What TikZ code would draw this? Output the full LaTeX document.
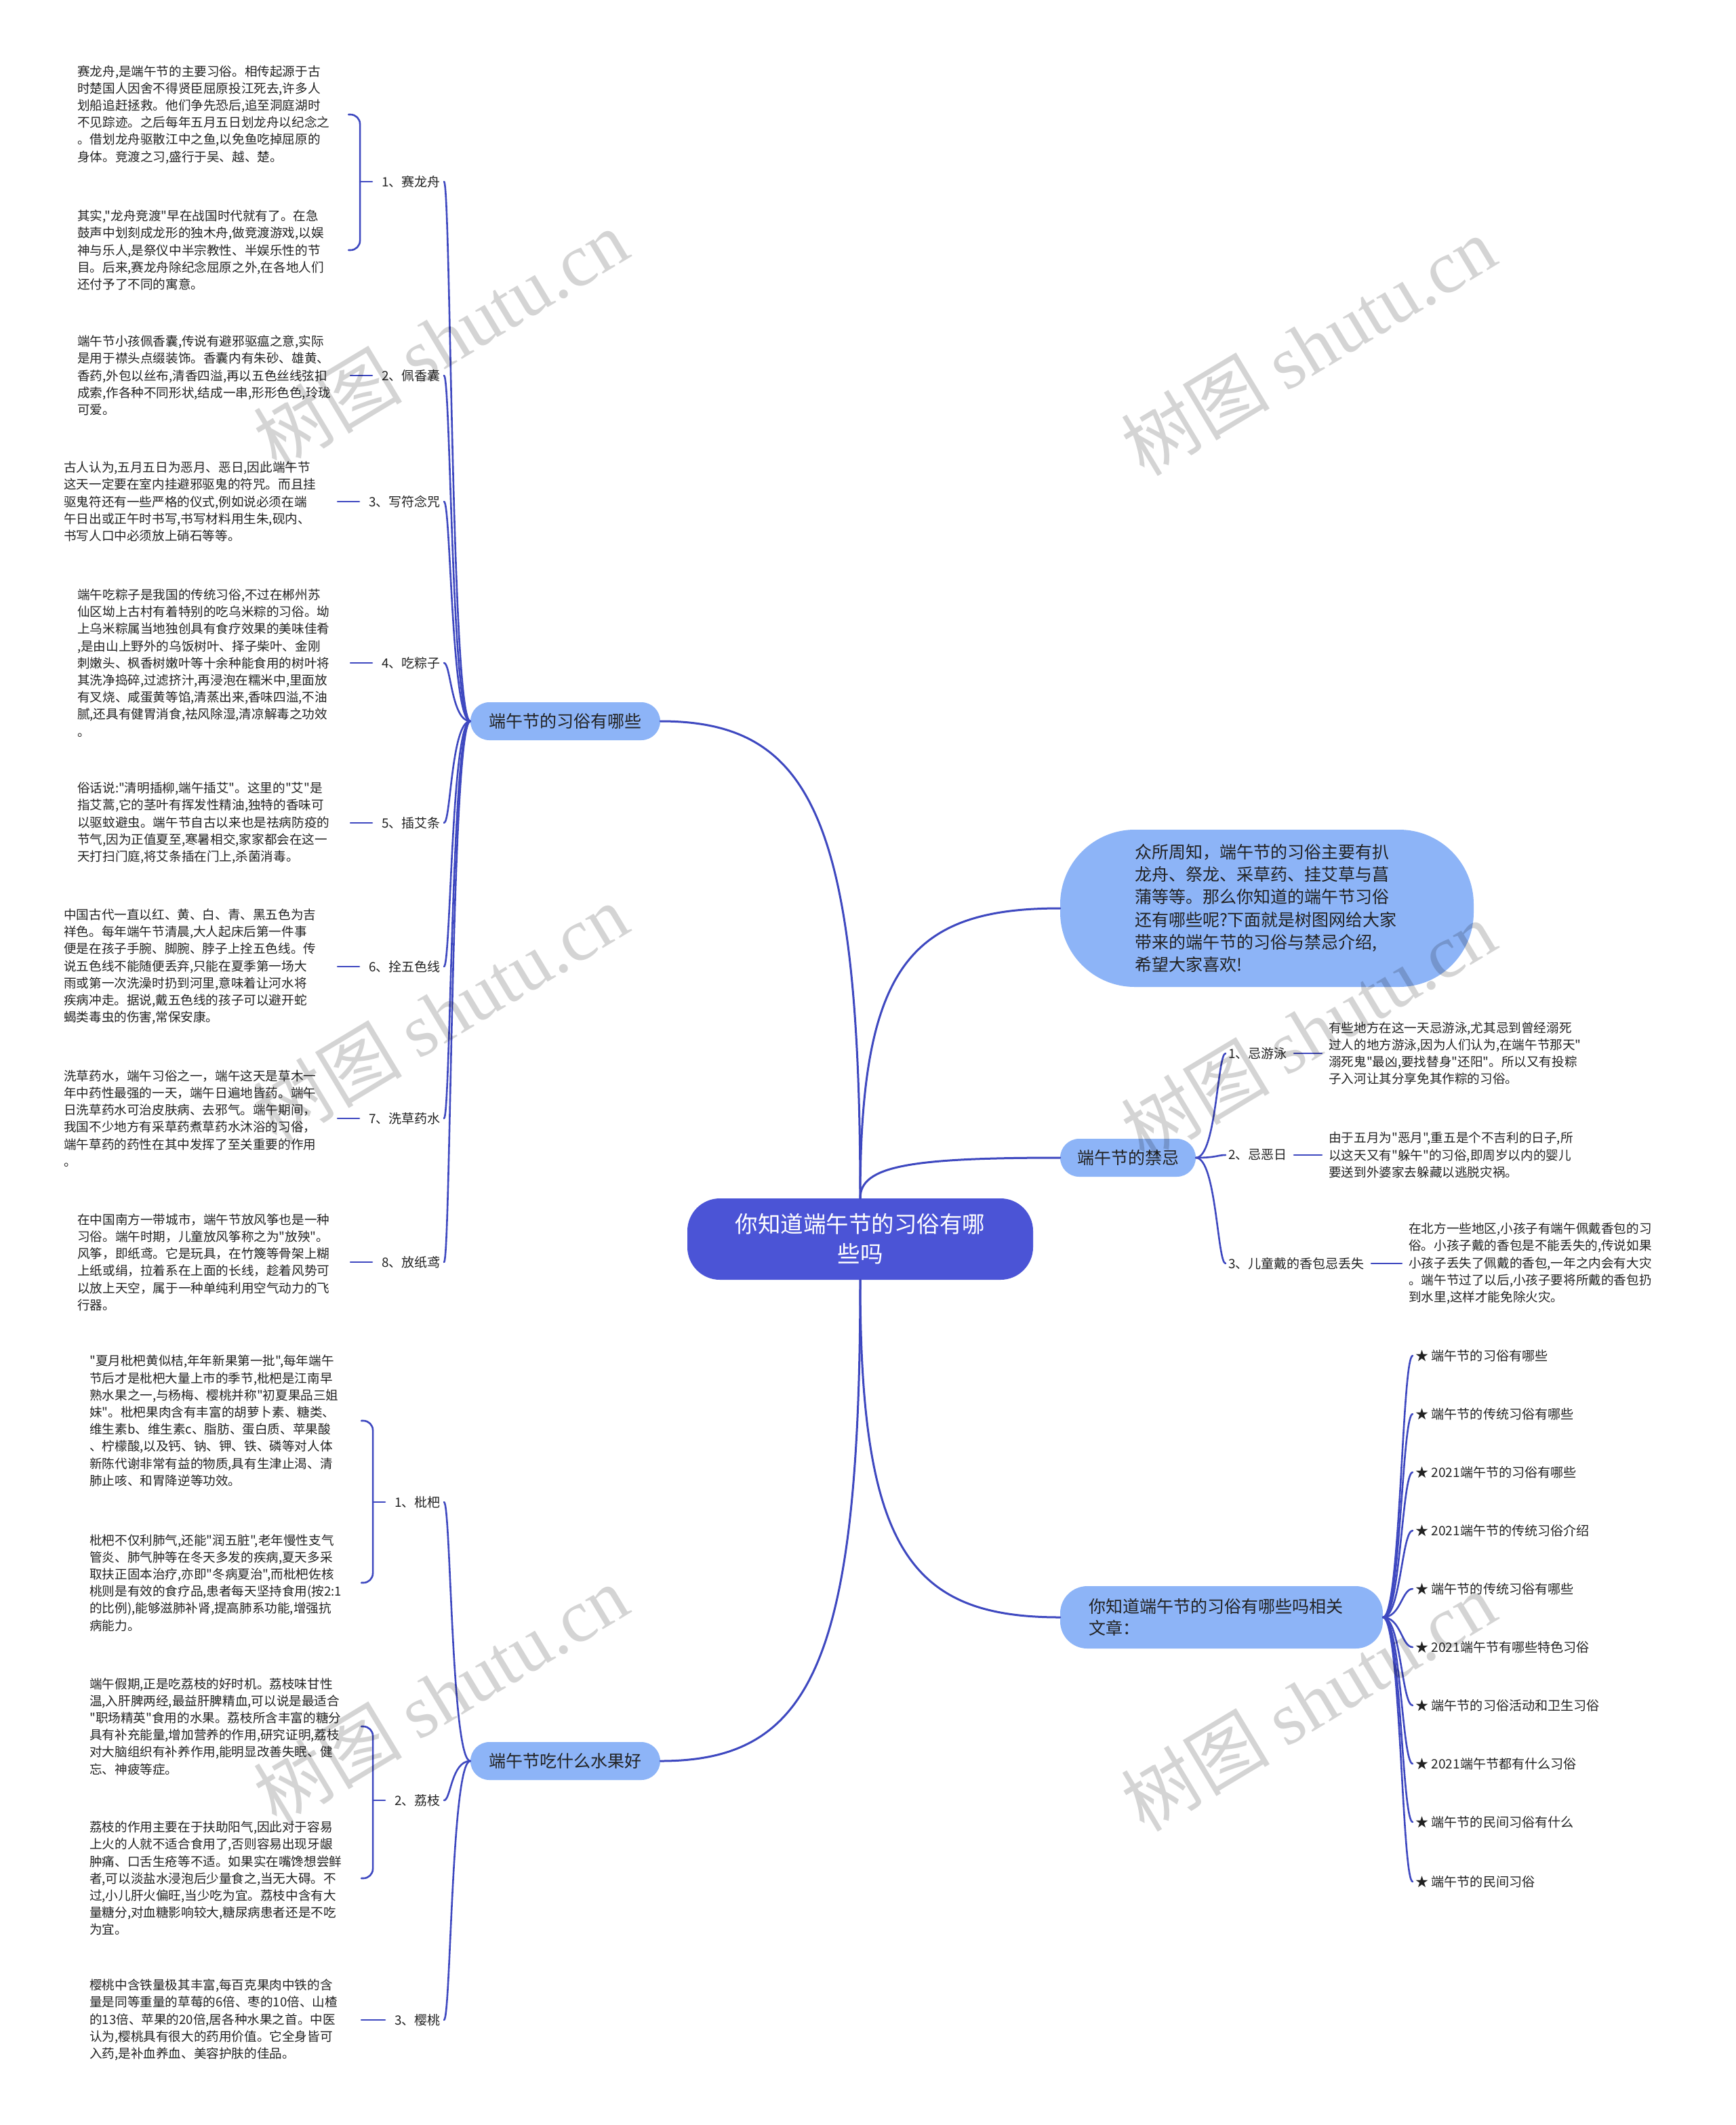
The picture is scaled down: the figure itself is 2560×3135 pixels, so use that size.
\documentclass[tikz,border=0pt]{standalone}
\usepackage{fontspec}
\setmainfont{Noto Sans CJK SC}[Ligatures=TeXOff]
\newfontfamily\wmlatin{Liberation Serif}
\usetikzlibrary{calc}
\definecolor{cmain}{RGB}{75,84,214}
\definecolor{csub}{RGB}{141,180,247}
\definecolor{cline}{RGB}{62,72,192}
\definecolor{ctext}{RGB}{34,34,34}
\begin{document}
\begin{tikzpicture}[x=1pt,y=-1pt,
 mmpara/.style={anchor=west,align=left,inner sep=0pt,text=ctext,font=\fontsize{18.6}{25.2}\selectfont},
 mmitem/.style={anchor=west,align=left,inner sep=0pt,text=ctext,font=\fontsize{19.1}{25.2}\selectfont},
 mmlbl/.style={inner sep=0pt,text=ctext,font=\fontsize{19}{24}\selectfont},
 mmbox/.style={fill=csub,text=ctext,inner sep=0pt,font=\fontsize{25}{32.5}\selectfont},
 mmline/.style={draw=cline,line width=2.6pt,line cap=round},
 mmmain/.style={draw=cline,line width=3pt,line cap=round},
 mmwm/.style={text=black,opacity=0.17,rotate=31,inner sep=0pt,font=\fontsize{110}{110}\selectfont},
]
\useasboundingbox[fill=white] (0,0) rectangle (2560,3135);

% ---------- main nodes ----------
\node[fill=cmain,text=white,rounded corners=48pt,minimum width=510pt,minimum height=120pt,
      text width=380pt,align=center,inner sep=0pt,font=\fontsize{33.5}{44}\selectfont] (ctr) at (1269,1828) {你知道端午节的习俗有哪\\些吗};
\node[mmbox,rounded corners=28pt,minimum width=280pt,minimum height=56pt] (cust) at (834,1064) {端午节的习俗有哪些};
\node[mmbox,rounded corners=28pt,minimum width=280pt,minimum height=56pt] (fruit) at (834,2598) {端午节吃什么水果好};
\node[mmbox,rounded corners=28pt,minimum width=200pt,minimum height=56pt] (taboo) at (1664,1708) {端午节的禁忌};
\node[mmbox,rounded corners=110pt,minimum width=610pt,minimum height=232pt,text width=390pt,align=left,
      font=\fontsize{25}{33.2}\selectfont] (intro) at (1869,1340)
 {众所周知，端午节的习俗主要有扒\\龙舟、祭龙、采草药、挂艾草与菖\\蒲等等。那么你知道的端午节习俗\\还有哪些呢?下面就是树图网给大家\\带来的端午节的习俗与禁忌介绍,\\希望大家喜欢!};
\node[mmbox,rounded corners=40pt,minimum width=476pt,minimum height=92pt,text width=392pt,align=left] (rel) at (1802,2386)
 {你知道端午节的习俗有哪些吗相关\\文章：};

% ---------- center connectors ----------
\draw[mmmain] (ctr.north) .. controls ($(ctr.north)!0.8!(ctr.north|-cust.east)$) and ($(cust.east)!0.75!(ctr.north|-cust.east)$) .. (cust.east);
\draw[mmmain] (ctr.north) .. controls ($(ctr.north)!0.8!(ctr.north|-intro.west)$) and ($(intro.west)!0.75!(ctr.north|-intro.west)$) .. (intro.west);
\draw[mmmain] (ctr.north) .. controls ($(ctr.north)!0.8!(ctr.north|-taboo.west)$) and ($(taboo.west)!0.75!(ctr.north|-taboo.west)$) .. (taboo.west);
\draw[mmmain] (ctr.south) .. controls ($(ctr.south)!0.8!(ctr.south|-fruit.east)$) and ($(fruit.east)!0.75!(ctr.south|-fruit.east)$) .. (fruit.east);
\draw[mmmain] (ctr.south) .. controls ($(ctr.south)!0.8!(ctr.south|-rel.west)$) and ($(rel.west)!0.75!(ctr.south|-rel.west)$) .. (rel.west);

% ---------- customs branch ----------
\node[mmlbl,anchor=east] (l1) at (650,268) {1、赛龙舟};
\node[mmlbl,anchor=east] (l2) at (650,554) {2、佩香囊};
\node[mmlbl,anchor=east] (l3) at (650,740) {3、写符念咒};
\node[mmlbl,anchor=east] (l4) at (650,978) {4、吃粽子};
\node[mmlbl,anchor=east] (l5) at (650,1214) {5、插艾条};
\node[mmlbl,anchor=east] (l6) at (650,1426) {6、拴五色线};
\node[mmlbl,anchor=east] (l7) at (650,1650) {7、洗草药水};
\node[mmlbl,anchor=east] (l8) at (650,1862) {8、放纸鸢};

\node[mmpara] (p1a) at (114,169) {赛龙舟,是端午节的主要习俗。相传起源于古\\时楚国人因舍不得贤臣屈原投江死去,许多人\\划船追赶拯救。他们争先恐后,追至洞庭湖时\\不见踪迹。之后每年五月五日划龙舟以纪念之\\。借划龙舟驱散江中之鱼,以免鱼吃掉屈原的\\身体。竞渡之习,盛行于吴、越、楚。};
\node[mmpara] (p1b) at (114,369) {其实,"龙舟竞渡"早在战国时代就有了。在急\\鼓声中划刻成龙形的独木舟,做竞渡游戏,以娱\\神与乐人,是祭仪中半宗教性、半娱乐性的节\\目。后来,赛龙舟除纪念屈原之外,在各地人们\\还付予了不同的寓意。};
\node[mmpara] (p2) at (114,554) {端午节小孩佩香囊,传说有避邪驱瘟之意,实际\\是用于襟头点缀装饰。香囊内有朱砂、雄黄、\\香药,外包以丝布,清香四溢,再以五色丝线弦扣\\成索,作各种不同形状,结成一串,形形色色,玲珑\\可爱。};
\node[mmpara] (p3) at (94,740) {古人认为,五月五日为恶月、恶日,因此端午节\\这天一定要在室内挂避邪驱鬼的符咒。而且挂\\驱鬼符还有一些严格的仪式,例如说必须在端\\午日出或正午时书写,书写材料用生朱,砚内、\\书写人口中必须放上硝石等等。};
\node[mmpara] (p4) at (114,978) {端午吃粽子是我国的传统习俗,不过在郴州苏\\仙区坳上古村有着特别的吃乌米粽的习俗。坳\\上乌米粽属当地独创具有食疗效果的美味佳肴\\,是由山上野外的乌饭树叶、择子柴叶、金刚\\刺嫩头、枫香树嫩叶等十余种能食用的树叶将\\其洗净捣碎,过滤挤汁,再浸泡在糯米中,里面放\\有叉烧、咸蛋黄等馅,清蒸出来,香味四溢,不油\\腻,还具有健胃消食,祛风除湿,清凉解毒之功效\\。};
\node[mmpara] (p5) at (114,1214) {俗话说:"清明插柳,端午插艾"。这里的"艾"是\\指艾蒿,它的茎叶有挥发性精油,独特的香味可\\以驱蚊避虫。端午节自古以来也是祛病防疫的\\节气,因为正值夏至,寒暑相交,家家都会在这一\\天打扫门庭,将艾条插在门上,杀菌消毒。};
\node[mmpara] (p6) at (94,1426) {中国古代一直以红、黄、白、青、黑五色为吉\\祥色。每年端午节清晨,大人起床后第一件事\\便是在孩子手腕、脚腕、脖子上拴五色线。传\\说五色线不能随便丢弃,只能在夏季第一场大\\雨或第一次洗澡时扔到河里,意味着让河水将\\疾病冲走。据说,戴五色线的孩子可以避开蛇\\蝎类毒虫的伤害,常保安康。};
\node[mmpara] (p7) at (94,1650) {洗草药水，端午习俗之一，端午这天是草木一\\年中药性最强的一天，端午日遍地皆药。端午\\日洗草药水可治皮肤病、去邪气。端午期间，\\我国不少地方有采草药煮草药水沐浴的习俗，\\端午草药的药性在其中发挥了至关重要的作用\\。};
\node[mmpara] (p8) at (114,1862) {在中国南方一带城市，端午节放风筝也是一种\\习俗。端午时期，儿童放风筝称之为"放殃"。\\风筝，即纸鸢。它是玩具，在竹篾等骨架上糊\\上纸或绢，拉着系在上面的长线，趁着风势可\\以放上天空，属于一种单纯利用空气动力的飞\\行器。};

\foreach \n in {l1,l2,l3,l4,l5,l6,l7,l8}
  {\draw[mmline] (cust.west) .. controls ([xshift=-28pt]cust.west) and ([xshift=15pt]\n.east) .. ([xshift=5pt]\n.east);}

\coordinate (b1x) at ([xshift=-32pt]l1.west);
\coordinate (b1t) at ([xshift=-49pt]l1.west);
\draw[mmline,rounded corners=14pt] (b1t|-p1a) -- (b1x|-p1a) -- (b1x|-p1b) -- (b1t|-p1b);
\draw[mmline] (b1x|-l1) -- ([xshift=-14pt]l1.west);
\foreach \n in {l2,l3,l4,l5,l6,l7,l8}
  {\draw[mmline] ([xshift=-14pt]\n.west) -- ([xshift=-46pt]\n.west);}

% ---------- fruit branch ----------
\node[mmlbl,anchor=east] (f1l) at (650,2216) {1、枇杷};
\node[mmlbl,anchor=east] (f2l) at (650,2656) {2、荔枝};
\node[mmlbl,anchor=east] (f3l) at (650,2980) {3、樱桃};

\node[mmpara] (f1a) at (132,2096) {"夏月枇杷黄似桔,年年新果第一批",每年端午\\节后才是枇杷大量上市的季节,枇杷是江南早\\熟水果之一,与杨梅、樱桃并称"初夏果品三姐\\妹"。枇杷果肉含有丰富的胡萝卜素、糖类、\\维生素b、维生素c、脂肪、蛋白质、苹果酸\\、柠檬酸,以及钙、钠、钾、铁、磷等对人体\\新陈代谢非常有益的物质,具有生津止渴、清\\肺止咳、和胃降逆等功效。};
\node[mmpara] (f1b) at (132,2335) {枇杷不仅利肺气,还能"润五脏",老年慢性支气\\管炎、肺气肿等在冬天多发的疾病,夏天多采\\取扶正固本治疗,亦即"冬病夏治",而枇杷佐核\\桃则是有效的食疗品,患者每天坚持食用(按2:1\\的比例),能够滋肺补肾,提高肺系功能,增强抗\\病能力。};
\node[mmpara] (f2a) at (132,2547) {端午假期,正是吃荔枝的好时机。荔枝味甘性\\温,入肝脾两经,最益肝脾精血,可以说是最适合\\"职场精英"食用的水果。荔枝所含丰富的糖分\\具有补充能量,增加营养的作用,研究证明,荔枝\\对大脑组织有补养作用,能明显改善失眠、健\\忘、神疲等症。};
\node[mmpara] (f2b) at (132,2771) {荔枝的作用主要在于扶助阳气,因此对于容易\\上火的人就不适合食用了,否则容易出现牙龈\\肿痛、口舌生疮等不适。如果实在嘴馋想尝鲜\\者,可以淡盐水浸泡后少量食之,当无大碍。不\\过,小儿肝火偏旺,当少吃为宜。荔枝中含有大\\量糖分,对血糖影响较大,糖尿病患者还是不吃\\为宜。};
\node[mmpara] (f3) at (132,2980) {樱桃中含铁量极其丰富,每百克果肉中铁的含\\量是同等重量的草莓的6倍、枣的10倍、山楂\\的13倍、苹果的20倍,居各种水果之首。中医\\认为,樱桃具有很大的药用价值。它全身皆可\\入药,是补血养血、美容护肤的佳品。};

\foreach \n in {f1l,f2l,f3l}
  {\draw[mmline] (fruit.west) .. controls ([xshift=-28pt]fruit.west) and ([xshift=15pt]\n.east) .. ([xshift=5pt]\n.east);}

\coordinate (b2x) at ([xshift=-32pt]f1l.west);
\coordinate (b2t) at ([xshift=-49pt]f1l.west);
\draw[mmline,rounded corners=14pt] (b2t|-f1a) -- (b2x|-f1a) -- (b2x|-f1b) -- (b2t|-f1b);
\draw[mmline] (b2x|-f1l) -- ([xshift=-14pt]f1l.west);
\coordinate (b3x) at ([xshift=-32pt]f2l.west);
\coordinate (b3t) at ([xshift=-49pt]f2l.west);
\draw[mmline,rounded corners=14pt] (b3t|-f2a) -- (b3x|-f2a) -- (b3x|-f2b) -- (b3t|-f2b);
\draw[mmline] (b3x|-f2l) -- ([xshift=-14pt]f2l.west);
\draw[mmline] ([xshift=-14pt]f3l.west) -- ([xshift=-49pt]f3l.west);

% ---------- taboo branch ----------
\node[mmlbl,anchor=west] (j1l) at (1812,1554) {1、忌游泳};
\node[mmlbl,anchor=west] (j2l) at (1812,1704) {2、忌恶日};
\node[mmlbl,anchor=west] (j3l) at (1812,1864) {3、儿童戴的香包忌丢失};
\node[mmpara] (j1) at (1960,1554) {有些地方在这一天忌游泳,尤其忌到曾经溺死\\过人的地方游泳,因为人们认为,在端午节那天"\\溺死鬼"最凶,要找替身"还阳"。所以又有投粽\\子入河让其分享免其作粽的习俗。};
\node[mmpara] (j2) at (1960,1704) {由于五月为"恶月",重五是个不吉利的日子,所\\以这天又有"躲午"的习俗,即周岁以内的婴儿\\要送到外婆家去躲藏以逃脱灾祸。};
\node[mmpara] (j3) at (2078,1864) {在北方一些地区,小孩子有端午佩戴香包的习\\俗。小孩子戴的香包是不能丢失的,传说如果\\小孩子丢失了佩戴的香包,一年之内会有大灾\\。端午节过了以后,小孩子要将所戴的香包扔\\到水里,这样才能免除火灾。};

\foreach \n in {j1l,j2l,j3l}
  {\draw[mmline] (taboo.east) .. controls ([xshift=30pt]taboo.east) and ([xshift=-16pt]\n.west) .. ([xshift=-4pt]\n.west);}
\draw[mmline] ([xshift=10pt]j1l.east) -- ([xshift=-10pt]j1.west);
\draw[mmline] ([xshift=10pt]j2l.east) -- ([xshift=-10pt]j2.west);
\draw[mmline] ([xshift=10pt]j3l.east) -- ([xshift=-10pt]j3.west);

% ---------- related articles ----------
\node[mmitem] (r1) at (2088,2000) {★ 端午节的习俗有哪些};
\node[mmitem] (r2) at (2088,2086) {★ 端午节的传统习俗有哪些};
\node[mmitem] (r3) at (2088,2172) {★ 2021端午节的习俗有哪些};
\node[mmitem] (r4) at (2088,2258) {★ 2021端午节的传统习俗介绍};
\node[mmitem] (r5) at (2088,2344) {★ 端午节的传统习俗有哪些};
\node[mmitem] (r6) at (2088,2430) {★ 2021端午节有哪些特色习俗};
\node[mmitem] (r7) at (2088,2516) {★ 端午节的习俗活动和卫生习俗};
\node[mmitem] (r8) at (2088,2602) {★ 2021端午节都有什么习俗};
\node[mmitem] (r9) at (2088,2688) {★ 端午节的民间习俗有什么};
\node[mmitem] (r10) at (2088,2776) {★ 端午节的民间习俗};
\foreach \n in {r1,r2,r3,r4,r5,r6,r7,r8,r9,r10}
  {\draw[mmline] (rel.east) .. controls ([xshift=26pt]rel.east) and ([xshift=-20pt]\n.west) .. ([xshift=-4pt]\n.west);}

% ---------- watermarks ----------
\node[mmwm] (wm1) at (650,500) {树图 {\wmlatin shutu.cn}};
\node[mmwm] (wm2) at (1930,510) {树图 {\wmlatin shutu.cn}};
\node[mmwm] (wm3) at (650,1495) {树图 {\wmlatin shutu.cn}};
\node[mmwm] (wm4) at (1930,1520) {树图 {\wmlatin shutu.cn}};
\node[mmwm] (wm5) at (650,2500) {树图 {\wmlatin shutu.cn}};
\node[mmwm] (wm6) at (1930,2510) {树图 {\wmlatin shutu.cn}};
\end{tikzpicture}
\end{document}
